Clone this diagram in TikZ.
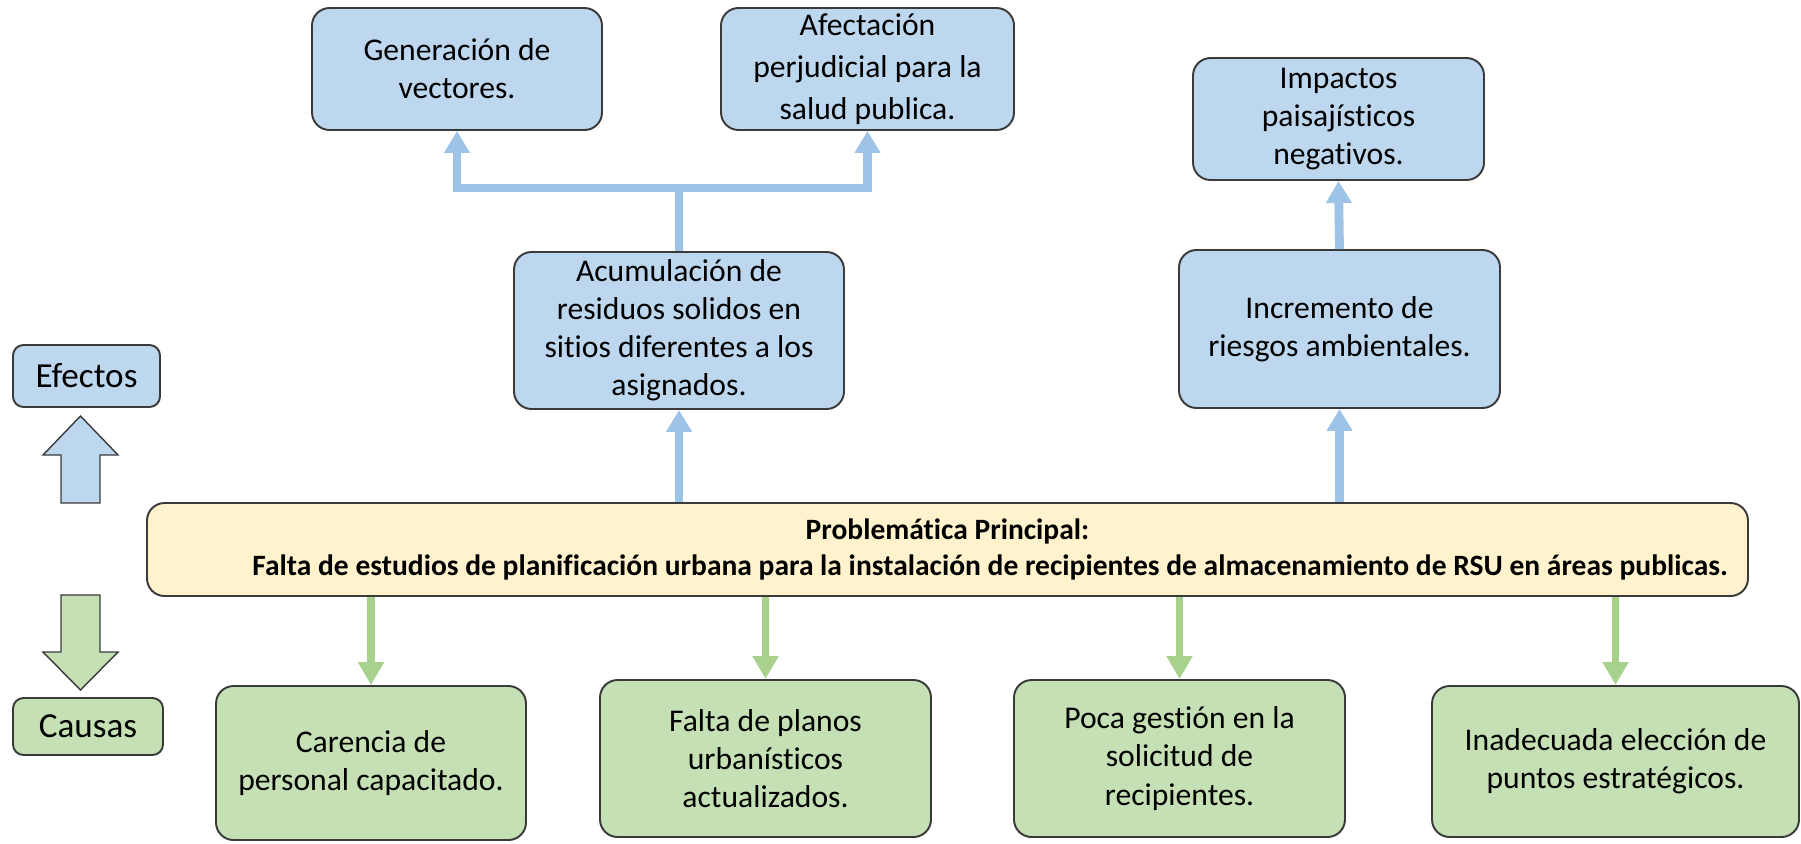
\documentclass[tikz,border=0pt]{standalone}
\usepackage{fontspec}
\setmainfont{Carlito}[Ligatures=NoCommon]
\usepackage[]{xcolor}
\usetikzlibrary{arrows.meta}
\definecolor{efblue}{HTML}{BDD7EE}
\definecolor{efline}{HTML}{9DC3E6}
\definecolor{cagreen}{HTML}{C5E0B4}
\definecolor{caline}{HTML}{A9D18E}
\definecolor{mainyellow}{HTML}{FFF2CC}
\definecolor{edge}{HTML}{3A3A3A}

\begin{document}
\begin{tikzpicture}[x=0.02cm,y=-0.02cm,
        box/.style={draw=edge,line width=1.1pt,rounded corners=10pt,align=center,
                    inner sep=0pt,font=\fontsize{18}{21.7}\selectfont},
        efbox/.style={box,fill=efblue},
        cabox/.style={box,fill=cagreen},
        mainbox/.style={box,fill=mainyellow,font=\fontsize{16.8}{21}\selectfont\bfseries},
        keybox/.style={box,rounded corners=6pt,font=\fontsize{20}{22}\selectfont},
        uparr/.style={draw=efline,line width=5pt,-{Triangle[length=12.5pt,width=14pt]}},
        downarr/.style={draw=caline,line width=4pt,-{Triangle[length=13pt,width=14pt]}}]
        \useasboundingbox (0,0) rectangle (1801,843);
        % leyenda
        \node[keybox,fill=efblue,minimum width=147*0.02cm,minimum height=62*0.02cm] (efectos) at (86.5,376) {Efectos};
        \node[keybox,fill=cagreen,minimum width=150*0.02cm,minimum height=57*0.02cm] (causas) at (88,726.5) {Causas};
        \draw[edge,line width=0.8pt,fill=efblue] (80.5,416) -- (118,455) -- (100,455) -- (100,503)
              -- (61,503) -- (61,455) -- (43,455) -- cycle;
        \draw[edge,line width=0.8pt,fill=cagreen] (80.5,690) -- (118,652) -- (100,652) -- (100,595)
              -- (61,595) -- (61,652) -- (43,652) -- cycle;
        % problematica
        \node[mainbox,minimum width=1601*0.02cm,minimum height=93*0.02cm] (main) at (947.5,549.5)
              {Problemática Principal:\\\hspace*{1.7cm}Falta de estudios de planificación urbana para la instalación de recipientes de almacenamiento de RSU en áreas publicas.};
        % efectos
        \node[efbox,minimum width=290*0.02cm,minimum height=122*0.02cm] (gen) at (457,69) {Generación de\\vectores.};
        \node[efbox,minimum width=293*0.02cm,minimum height=122*0.02cm,font=\fontsize{18}{24}\selectfont] (afe) at (867.5,69) {Afectación\\perjudicial para la\\salud publica.};
        \node[efbox,minimum width=330*0.02cm,minimum height=157*0.02cm] (acu) at (679,330.5) {Acumulación de\\residuos solidos en\\sitios diferentes a los\\asignados.};
        \node[efbox,minimum width=291*0.02cm,minimum height=122*0.02cm] (imp) at (1338.5,119) {Impactos\\paisajísticos\\negativos.};
        \node[efbox,minimum width=321*0.02cm,minimum height=158*0.02cm] (inc) at (1339.5,329) {Incremento de\\riesgos ambientales.};
        % causas
        \node[cabox,minimum width=310*0.02cm,minimum height=154*0.02cm] (car) at (371,763) {Carencia de\\personal capacitado.};
        \node[cabox,minimum width=331*0.02cm,minimum height=157*0.02cm] (fal) at (765.5,758.5) {Falta de planos\\urbanísticos\\actualizados.};
        \node[cabox,minimum width=331*0.02cm,minimum height=157*0.02cm] (poc) at (1179.5,758.5) {Poca gestión en la\\solicitud de\\recipientes.};
        \node[cabox,minimum width=367*0.02cm,minimum height=151*0.02cm] (ina) at (1615.5,761.5) {Inadecuada elección de\\puntos estratégicos.};
        % flechas
        \coordinate (fork) at (acu.north |- 0,188);
        \draw[uparr] (main.north -| acu.south) -- (acu.south);
        \draw[uparr] (acu.north) -- (fork) -| (gen.south);
        \draw[uparr] (fork) -| (afe.south);
        \draw[uparr] (main.north -| inc.south) -- (inc.south);
        \draw[uparr] (inc.north) -- (imp.south);
        \draw[downarr] (main.south -| car.north) -- (car.north);
        \draw[downarr] (main.south -| fal.north) -- (fal.north);
        \draw[downarr] (main.south -| poc.north) -- (poc.north);
        \draw[downarr] (main.south -| ina.north) -- (ina.north);
\end{tikzpicture}
\end{document}
